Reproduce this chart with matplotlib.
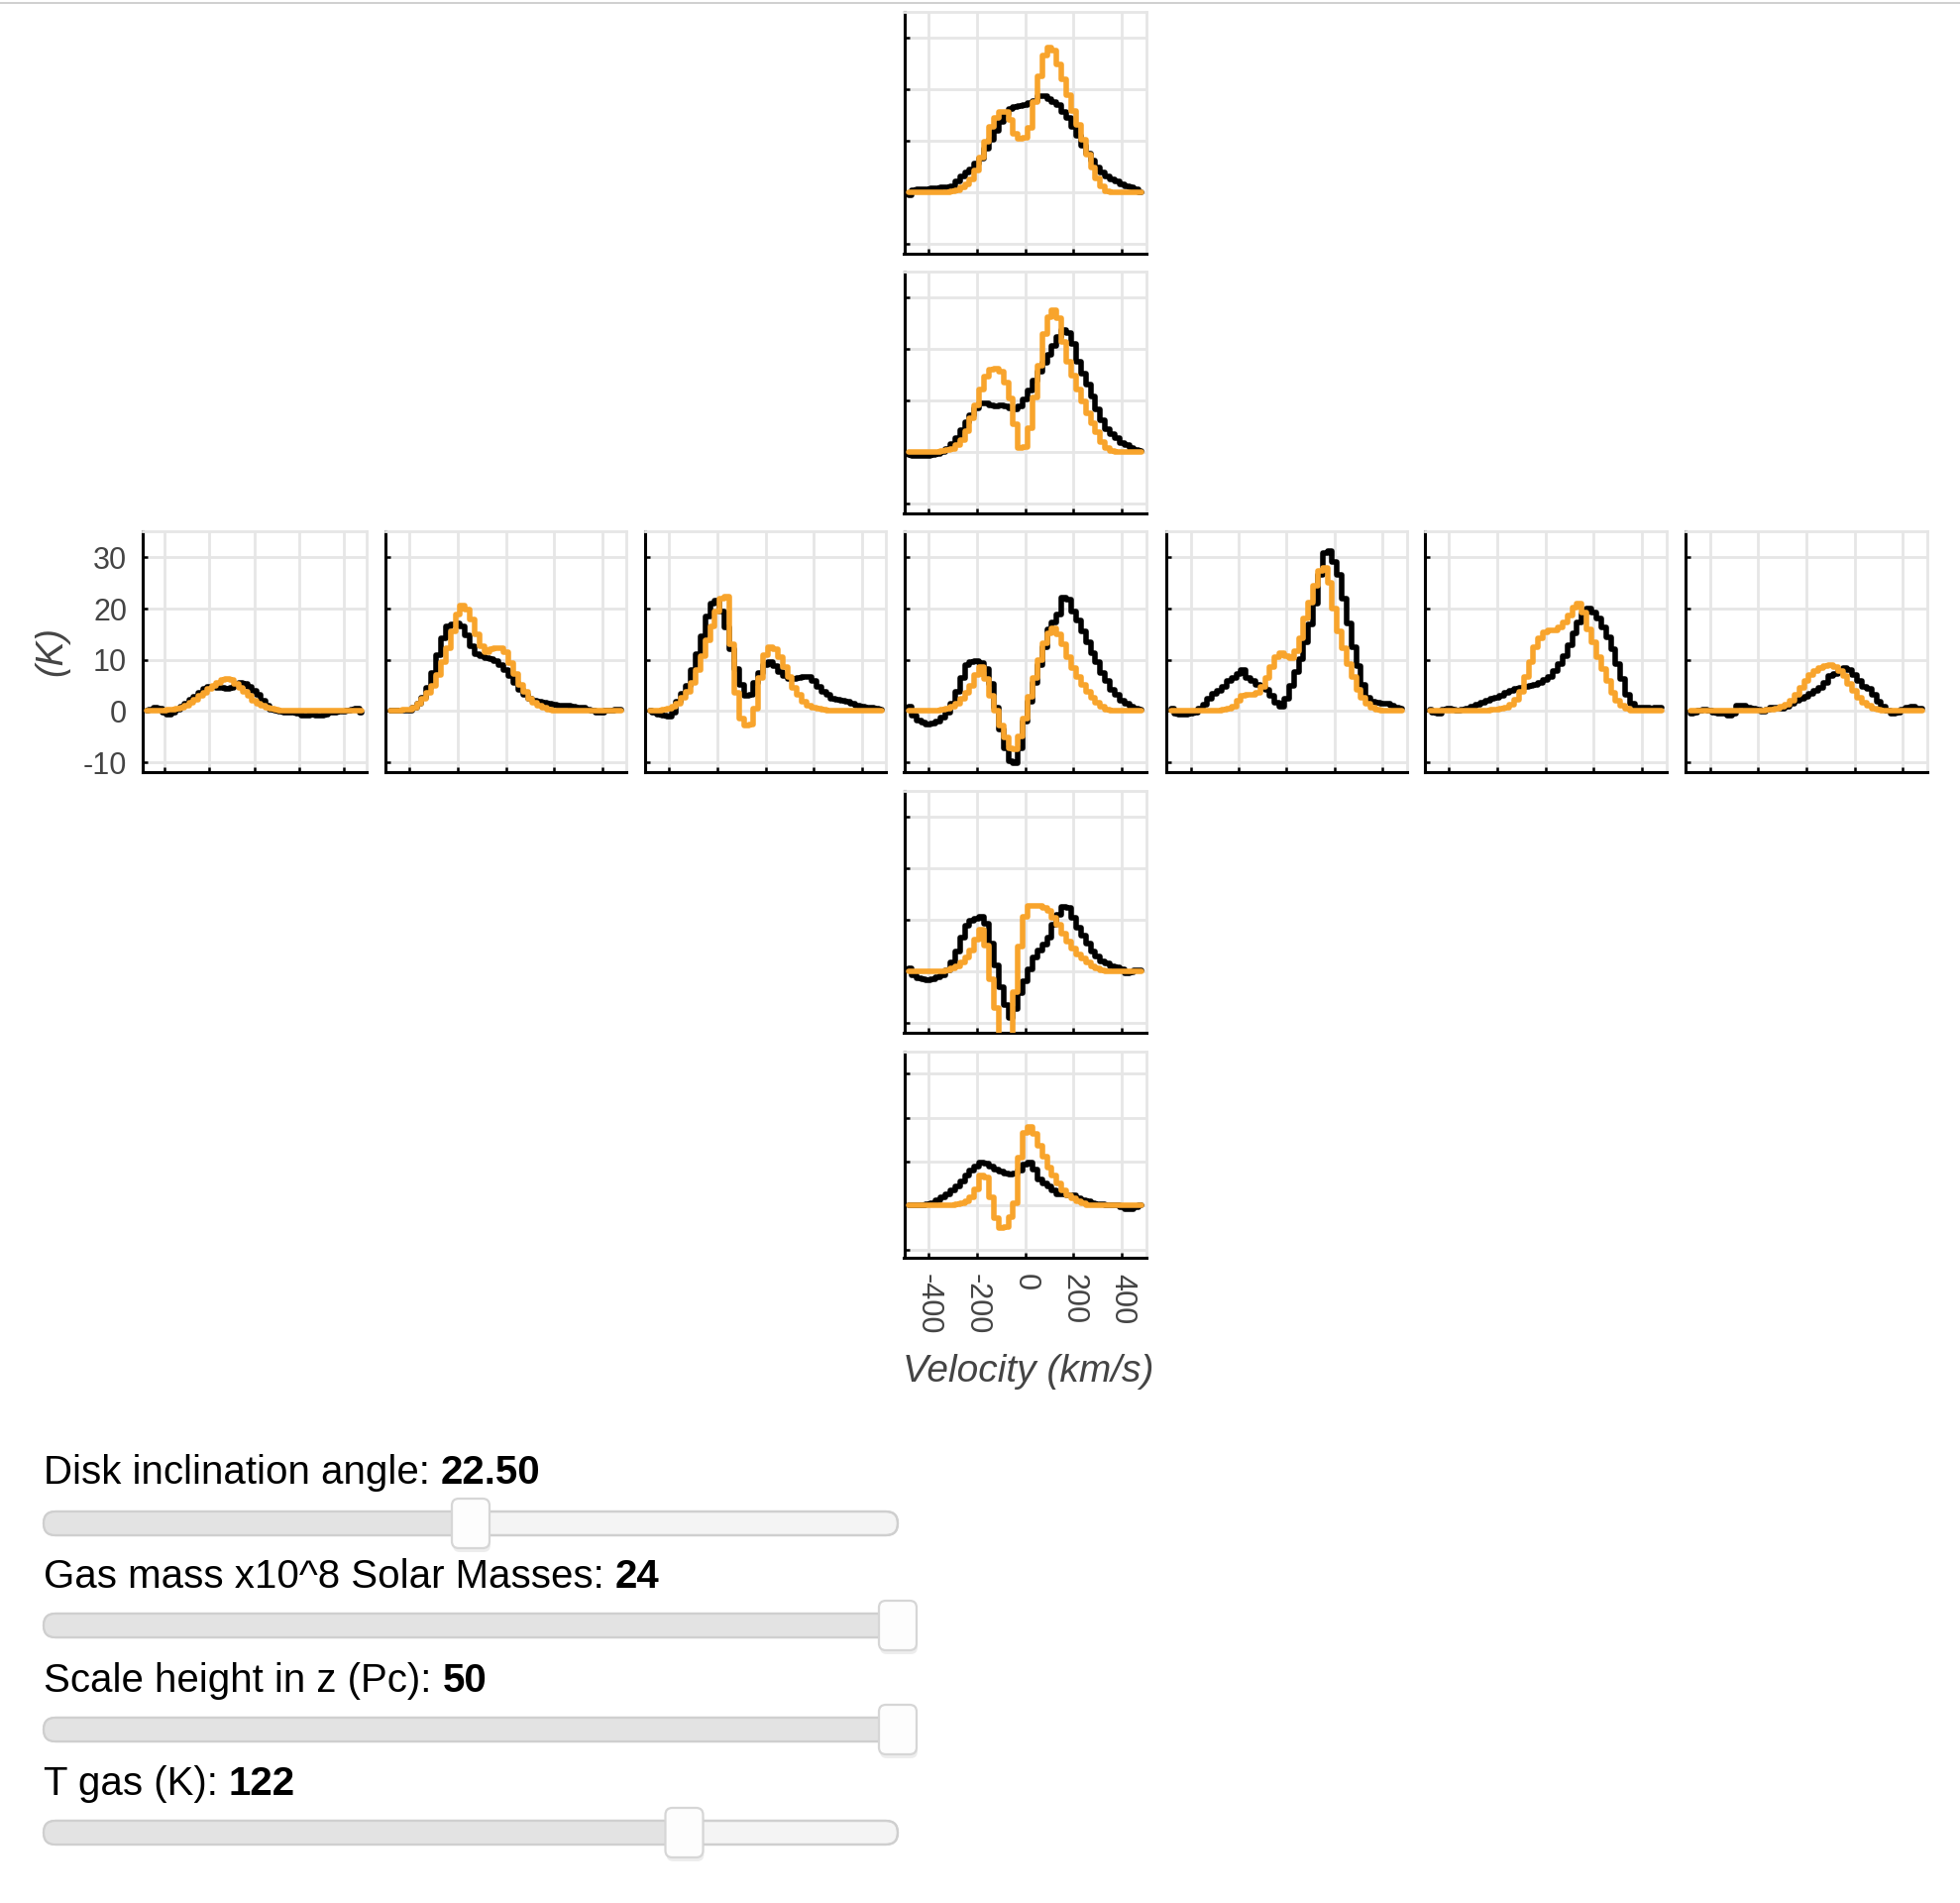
import matplotlib
matplotlib.use("Agg")
import matplotlib.pyplot as plt
import numpy as np
from matplotlib.patches import FancyBboxPatch, Rectangle

plt.rcParams['font.family'] = ['Liberation Sans', 'DejaVu Sans']

# ---------------- data ----------------
velocity = np.arange(-480, 481, 20)          # km/s channel centres
x_ticks = [-400, -200, 0, 200, 400]
y_ticks = [-10, 0, 10, 20, 30]

obs_top = [-0.5, 0.4, 0.6, 0.7, 0.7, 0.8, 0.8, 0.9, 1.0, 1.2,
           2.2, 3.2, 3.8, 4.5, 5.7, 6.6, 8.5, 10.3, 12.0, 13.6,
           15.3, 16.2, 16.5, 16.8, 17.0, 17.4, 17.8, 18.6, 18.6, 18.2,
           17.5, 16.9, 15.6, 14.4, 12.8, 11.0, 9.0, 7.5, 6.2, 4.8,
           3.8, 3.1, 2.6, 2.1, 1.6, 1.2, 1.0, 0.6, 0.0]
mod_top = [0, 0, 0, 0, 0, 0, 0, 0, 0.1, 0.2,
           0.5, 0.9, 1.6, 2.5, 4.2, 6.8, 9.8, 12.8, 14.5, 15.6,
           15.6, 14.0, 11.4, 10.4, 10.6, 12.5, 17.5, 22.5, 26.5, 28.2,
           27.5, 24.8, 22.0, 18.9, 15.8, 13.2, 10.2, 7.4, 4.9, 2.8,
           1.2, 0.2, 0, 0, 0, 0, 0, 0, 0]

obs_n1 = [-0.5, -0.7, -0.8, -0.8, -0.7, -0.6, -0.4, 0.0, 0.7, 1.5,
          2.8, 4.2, 5.8, 7.2, 8.6, 9.5, 9.5, 9.1, 8.9, 9.0,
          8.9, 8.6, 8.3, 8.9, 10.2, 12.0, 14.0, 15.7, 17.4, 19.0,
          20.6, 22.4, 23.8, 23.2, 21.0, 17.5, 15.2, 13.2, 10.8, 8.3,
          6.3, 4.5, 3.6, 2.7, 1.8, 1.3, 0.9, 0.5, 0.2]
mod_n1 = [0, 0, 0, 0, 0, 0, 0.1, 0.2, 0.4, 0.7,
          1.3, 2.4, 4.0, 6.5, 9.0, 12.2, 14.6, 16.0, 16.3, 15.6,
          13.6, 10.5, 5.4, 0.8, 1.0, 4.7, 10.7, 16.8, 23.0, 26.2,
          27.5, 26.0, 21.5, 17.5, 14.8, 12.2, 9.8, 7.5, 5.7, 3.8,
          2.0, 0.8, 0.3, 0, 0, 0, 0, 0, 0]

obs_center = [0.8, -0.8, -1.8, -2.3, -2.6, -2.5, -2.1, -1.3, -0.2, 1.5,
              3.8, 6.5, 9.0, 9.6, 9.8, 9.4, 8.2, 5.3, 0.6, -3.5,
              -7.3, -9.8, -10.2, -7.2, -2.0, 1.8, 5.6, 9.0, 12.5, 16.0,
              17.3, 18.8, 22.2, 21.8, 19.5, 17.6, 15.6, 13.5, 11.3, 9.5,
              7.5, 5.8, 4.2, 3.1, 2.1, 1.4, 0.8, 0.5, 0.3]
mod_center = [0, 0, 0, 0, 0, 0, 0.1, 0.2, 0.4, 0.9,
              1.5, 2.4, 3.6, 5.0, 7.0, 8.6, 6.3, 3.0, 0.0, -2.8,
              -5.2, -7.2, -7.5, -5.0, -1.5, 2.8, 6.5, 10.0, 13.2, 15.2,
              16.1, 15.0, 13.0, 10.6, 8.5, 6.6, 5.1, 3.8, 2.6, 1.6,
              0.8, 0.3, 0.1, 0, 0, 0, 0, 0, 0]

obs_s1 = [0.6, -0.8, -1.3, -1.5, -1.6, -1.5, -1.2, -0.7, 0.3, 1.8,
          3.8, 6.5, 8.9, 9.8, 10.3, 10.6, 9.3, 5.4, 1.2, -3.0,
          -6.5, -9.0, -7.2, -4.2, -1.8, 0.5, 2.8, 4.0, 5.2, 6.6,
          9.0, 11.0, 12.6, 12.4, 10.5, 8.5, 7.0, 5.4, 3.8, 2.9,
          2.0, 1.6, 1.1, 0.8, 0.4, -0.3, -0.1, 0.3, 0.2]
mod_s1 = [0, 0, 0, 0, 0, 0, 0, 0, 0.3, 0.6,
          1.0, 1.8, 2.8, 4.0, 6.3, 8.1, 5.0, -1.5, -7.0, -13.0,
          -16.0, -15.0, -4.0, 4.8, 10.6, 12.7, 12.8, 12.7, 12.4, 11.8,
          10.5, 9.0, 7.3, 5.8, 4.5, 3.4, 2.5, 1.7, 1.1, 0.6,
          0.3, 0.1, 0, 0, 0, 0, 0, 0, 0]

obs_s2 = [0.0, 0.1, 0.1, 0.2, 0.3, 0.6, 1.2, 1.9, 2.7, 3.5,
          4.4, 5.5, 6.8, 8.0, 9.0, 9.9, 9.6, 8.9, 8.3, 7.8,
          7.4, 7.2, 7.4, 8.0, 9.4, 9.8, 8.2, 6.0, 5.0, 4.4,
          3.5, 2.7, 2.5, 2.4, 2.3, 1.7, 1.2, 0.9, 0.6, 0.4,
          0.3, 0.2, 0.1, 0.0, -0.3, -0.8, -0.9, -0.3, 0.1]
mod_s2 = [0, 0, 0, 0, 0, 0, 0, 0, 0.1, 0.2,
          0.3, 0.5, 0.9, 1.8, 3.8, 6.8, 6.5, 2.0, -2.8, -5.0,
          -4.8, -2.5, 0.5, 11.0, 16.5, 17.8, 16.3, 13.6, 11.2, 8.7,
          6.8, 5.0, 3.6, 2.4, 1.6, 1.0, 0.5, 0.2, 0.1, 0,
          0, 0, 0, 0, 0, 0, 0, 0, 0]

obs_w3 = [0.1, 0.3, 0.6, 0.4, -0.2, -0.6, -0.3, 0.2, 0.8, 1.5,
          2.2, 2.8, 3.5, 4.3, 4.8, 4.8, 4.6, 4.5, 4.4, 4.5,
          5.0, 5.6, 5.3, 4.8, 4.0, 3.2, 2.0, 1.0, 0.3, 0.0,
          -0.1, -0.2, -0.3, -0.3, -0.5, -0.8, -0.9, -0.6, -0.8, -0.9,
          -0.6, -0.3, -0.2, -0.1, -0.1, 0.1, 0.3, 0.4, -0.2]
mod_w3 = [0.0, 0.0, 0.0, 0.0, 0.1, 0.2, 0.3, 0.5, 0.7, 1.1,
          1.6, 2.2, 2.9, 3.6, 4.3, 5.0, 5.6, 6.0, 6.2, 6.0,
          5.4, 4.6, 3.8, 2.9, 2.1, 1.5, 1.0, 0.7, 0.4, 0.2,
          0.1, 0, 0, 0, 0, 0, 0, 0, 0, 0,
          0, 0, 0, 0, 0, 0, 0, 0, 0]

obs_w2 = [0.1, 0.0, 0.1, 0.1, 0.1, 0.6, 1.4, 2.6, 4.6, 7.5,
          11.0, 14.2, 16.5, 17.0, 17.2, 16.6, 14.8, 12.6, 11.2, 10.7,
          10.4, 10.2, 9.8, 9.0, 8.0, 6.8, 5.5, 4.1, 3.2, 2.4,
          2.0, 1.8, 1.6, 1.4, 1.2, 1.1, 1.1, 1.0, 0.9, 0.7,
          0.6, 0.3, 0.0, -0.3, -0.2, 0.0, 0.1, 0.2, 0.3]
mod_w2 = [0.0, 0.0, 0.1, 0.2, 0.3, 0.7, 1.4, 2.4, 3.5, 5.0,
          7.0, 9.6, 12.2, 15.6, 18.8, 20.6, 19.8, 17.8, 15.0, 12.6,
          11.5, 12.0, 12.3, 12.3, 11.5, 9.4, 7.2, 5.1, 3.7, 2.5,
          1.7, 1.1, 0.6, 0.3, 0.1, 0, 0, 0, 0, 0,
          0, 0, 0, 0, 0, 0, 0, 0, 0]

obs_w1 = [0.0, -0.3, -0.6, -0.9, -1.0, -0.2, 1.8, 3.4, 5.0, 8.0,
          11.2, 14.6, 18.4, 21.0, 21.6, 19.5, 16.4, 12.0, 8.3, 5.2,
          3.0, 3.2, 5.5, 7.4, 9.0, 9.6, 8.8, 7.6, 6.8, 6.3,
          6.2, 6.5, 6.7, 6.7, 5.9, 4.8, 3.8, 3.1, 2.5, 2.2,
          2.0, 1.9, 1.5, 1.0, 0.9, 0.7, 0.6, 0.4, 0.3]
mod_w1 = [0.0, 0.0, 0.1, 0.2, 0.4, 0.8, 1.4, 2.6, 3.8, 5.6,
          8.0, 10.8, 13.8, 16.6, 19.5, 22.0, 22.4, 13.0, 3.5, -1.5,
          -2.9, -2.6, 0.5, 6.5, 11.0, 12.4, 12.0, 10.5, 8.6, 6.6,
          4.6, 3.2, 1.9, 1.1, 0.6, 0.4, 0.2, 0.1, 0, 0,
          0, 0, 0, 0, 0, 0, 0, 0, 0]

obs_e1 = [0.4, -0.5, -0.7, -0.6, -0.5, -0.2, 0.4, 1.2, 2.4, 3.4,
          4.0, 4.8, 5.8, 6.5, 7.2, 8.0, 6.5, 5.8, 5.1, 4.7,
          4.1, 3.0, 1.6, 0.9, 2.4, 5.0, 7.6, 10.2, 13.5, 17.0,
          21.0, 26.5, 30.8, 31.3, 29.2, 26.5, 22.0, 17.2, 12.5, 8.8,
          5.2, 2.6, 1.8, 1.6, 1.5, 1.4, 1.0, 0.6, 0.4]
mod_e1 = [0, 0, 0, 0, 0, 0, 0, 0, 0, 0,
          0.1, 0.2, 0.4, 0.9, 2.0, 3.0, 3.2, 3.1, 3.5, 4.8,
          6.5, 8.6, 10.5, 11.3, 10.8, 10.4, 11.6, 14.2, 18.0, 21.2,
          24.5, 27.4, 28.0, 25.0, 20.0, 15.5, 12.2, 9.2, 6.6, 4.2,
          2.6, 1.4, 0.6, 0.2, 0, 0, 0, 0, 0]

obs_e2 = [0.3, -0.2, -0.5, 0.2, 0.5, 0.2, 0.0, 0.2, 0.5, 0.8,
          1.3, 1.6, 2.0, 2.5, 2.7, 3.0, 3.5, 4.0, 4.3, 4.6,
          4.7, 4.9, 5.2, 5.6, 6.0, 6.7, 7.9, 9.2, 10.8, 12.8,
          15.2, 17.4, 19.0, 20.0, 19.3, 18.0, 16.3, 14.5, 12.0, 9.2,
          6.2, 3.2, 1.4, 0.7, 0.6, 0.6, 0.5, 0.6, 0.6]
mod_e2 = [0, 0, 0, 0, 0, 0, 0, 0, 0, 0,
          0, 0, 0.1, 0.2, 0.3, 0.4, 0.7, 1.2, 2.2, 3.8,
          6.6, 9.6, 12.5, 14.3, 15.4, 15.7, 15.8, 16.3, 17.3, 18.6,
          20.2, 21.0, 19.2, 16.0, 13.4, 10.6, 8.2, 5.8, 3.6, 2.0,
          1.0, 0.4, 0.1, 0, 0, 0, 0, 0, 0]

obs_e3 = [-0.4, -0.2, 0.1, 0.2, 0.0, -0.3, -0.4, -0.5, -0.8, -0.4,
          1.0, 1.0, 0.6, 0.4, 0.2, -0.1, 0.3, 0.7, 0.6, 0.5,
          0.9, 1.4, 2.0, 2.5, 2.8, 3.3, 3.9, 4.6, 5.6, 6.8,
          7.3, 7.8, 8.5, 8.1, 7.0, 5.8, 4.8, 4.3, 3.2, 1.8,
          0.8, 0.0, -0.4, -0.2, 0.2, 0.6, 0.8, 0.5, 0.4]
mod_e3 = [0, 0, 0, 0, 0, 0, 0, 0, 0, 0,
          0, 0, 0, 0, 0, 0.1, 0.2, 0.3, 0.5, 0.8,
          1.3, 2.1, 3.2, 4.5, 5.8, 7.0, 7.9, 8.5, 8.8, 8.9,
          8.6, 7.9, 6.8, 5.4, 4.0, 2.7, 1.7, 1.0, 0.5, 0.2,
          0.1, 0, 0, 0, 0, 0, 0, 0, 0]

slider_labels = ["Disk inclination angle:", "Gas mass x10^8 Solar Masses:",
                 "Scale height in z (Pc):", "T gas (K):"]
slider_values = ["22.50", "24", "50", "122"]
slider_fraction = [0.5, 1.0, 1.0, 0.75]

# (row, col) -> (observed, model)
panels = {
    (0, 3): (obs_top, mod_top),
    (1, 3): (obs_n1, mod_n1),
    (2, 0): (obs_w3, mod_w3),
    (2, 1): (obs_w2, mod_w2),
    (2, 2): (obs_w1, mod_w1),
    (2, 3): (obs_center, mod_center),
    (2, 4): (obs_e1, mod_e1),
    (2, 5): (obs_e2, mod_e2),
    (2, 6): (obs_e3, mod_e3),
    (3, 3): (obs_s1, mod_s1),
    (4, 3): (obs_s2, mod_s2),
}
for k, (o, m) in panels.items():
    assert len(o) == len(velocity) and len(m) == len(velocity), (k, len(o), len(m))

# ---------------- layout (pixels) ----------------
W, H = 1978, 1920
col_px = [(143.5, 369.5), (389, 632.3), (650.7, 894.5), (912.5, 1156.7),
          (1177.3, 1419.5), (1437.7, 1681.7), (1701.3, 1944.7)]
row_px = [(11.7, 256), (274, 518), (536, 779), (798, 1042), (1060.7, 1269.3)]

BLACK = '#000000'
ORANGE = '#f8a42c'
GRID = '#e6e6e6'
TXT = '#444444'

fig = plt.figure(figsize=(W / 100, H / 100), dpi=100)
fig.patch.set_facecolor('white')

ui = fig.add_axes([0, 0, 1, 1])
ui.set_xlim(0, W)
ui.set_ylim(H, 0)
ui.axis('off')
ui.patch.set_visible(False)

# thin top separator line
ui.plot([0, W], [3, 3], color='#cfcfcf', lw=1.4, solid_capstyle='butt')

for (r, c), (obs, mod) in panels.items():
    x0, x1 = col_px[c]
    y0, y1 = row_px[r]
    ax = fig.add_axes([x0 / W, 1 - y1 / H, (x1 - x0) / W, (y1 - y0) / H])
    ax.set_xlim(-500, 500)
    ax.set_ylim(-11.9, 35.1)
    ax.set_xticks(x_ticks)
    ax.set_yticks(y_ticks)
    ax.grid(True, color=GRID, lw=2.0, zorder=0)
    ax.set_axisbelow(True)
    for s in ('left', 'bottom'):
        ax.spines[s].set_color(BLACK)
        ax.spines[s].set_linewidth(2.2)
    for s in ('top', 'right'):
        ax.spines[s].set_color(GRID)
        ax.spines[s].set_linewidth(2.0)
    ax.tick_params(direction='in', length=3.5, width=1.8, color=BLACK,
                   labelsize=22, labelcolor=TXT, pad=11)
    ax.step(velocity, obs, where='mid', color=BLACK, lw=4.0,
            solid_joinstyle='round', solid_capstyle='round', zorder=3)
    ax.step(velocity, mod, where='mid', color=ORANGE, lw=4.0,
            solid_joinstyle='round', solid_capstyle='round', zorder=4)
    if c == 0:
        ax.set_yticklabels([str(t) for t in y_ticks])
    else:
        ax.set_yticklabels([])
    if r == 4:
        ax.set_xticklabels([str(t) for t in x_ticks], rotation=270,
                           ha='center', va='top')
    else:
        ax.set_xticklabels([])

# axis titles
ui.text(52, 657, '(K)', rotation=90, style='italic', ha='center', va='center',
        fontsize=27, color=TXT)
ui.text(1038, 1384, 'Velocity (km/s)', style='italic', ha='center', va='center',
        fontsize=28, color=TXT)

# ---------------- sliders ----------------
tx0, tx1 = 44, 906
text_base = [1497, 1602, 1707, 1811]
track_c = [1537, 1640, 1745, 1849]
th = 24
for lab, val, frac, yb, yc in zip(slider_labels, slider_values, slider_fraction,
                                  text_base, track_c):
    t = ui.text(tx0, yb, lab, fontsize=29, color='black', va='baseline', ha='left')
    ui.annotate(val, xy=(1, 0), xycoords=t, xytext=(8, 0), textcoords='offset points',
                fontsize=29, fontweight='bold', color='black', va='bottom', ha='left')
    track = FancyBboxPatch((tx0, yc - th / 2), tx1 - tx0, th,
                           boxstyle='round,pad=0,rounding_size=12',
                           fc='#f4f4f4', ec='#cfcfcf', lw=1.6, zorder=2)
    ui.add_patch(track)
    hx = tx0 + frac * (tx1 - tx0)
    fill = Rectangle((tx0, yc - th / 2), hx - tx0, th, fc='#e3e3e3', ec='none', zorder=2.1)
    ui.add_patch(fill)
    fill.set_clip_path(track)
    border = FancyBboxPatch((tx0, yc - th / 2), tx1 - tx0, th,
                            boxstyle='round,pad=0,rounding_size=12',
                            fc='none', ec='#cfcfcf', lw=1.6, zorder=2.2)
    ui.add_patch(border)
    hw, hh = 38, 50
    shadow = FancyBboxPatch((hx - hw / 2 + 1, yc - hh / 2 + 4), hw, hh,
                            boxstyle='round,pad=0,rounding_size=7',
                            fc='black', ec='none', alpha=0.07, zorder=2.5)
    ui.add_patch(shadow)
    handle = FancyBboxPatch((hx - hw / 2, yc - hh / 2), hw, hh,
                            boxstyle='round,pad=0,rounding_size=7',
                            fc='#fdfdfd', ec='#d6d6d6', lw=1.6, zorder=3)
    ui.add_patch(handle)

fig.savefig('out.png', dpi=100, facecolor='white')
